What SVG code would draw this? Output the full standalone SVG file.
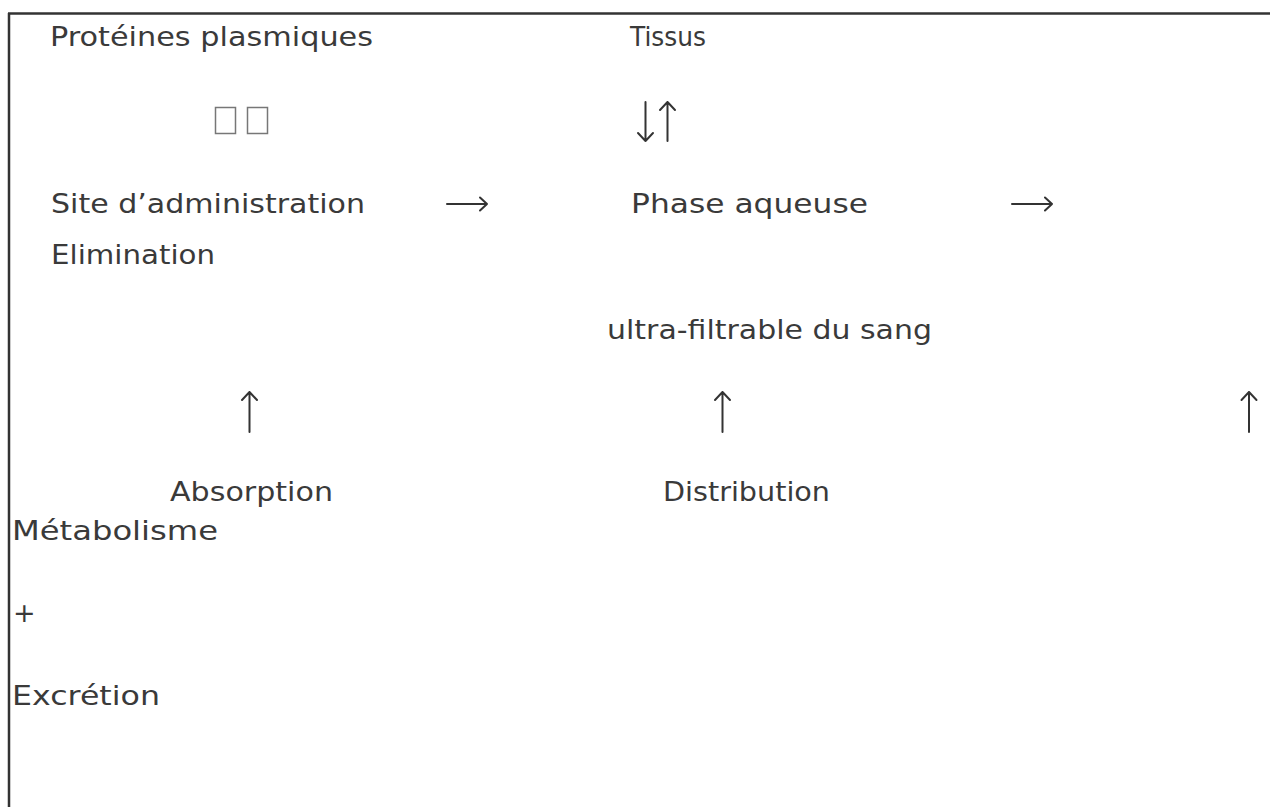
<svg xmlns="http://www.w3.org/2000/svg" width="1271" height="807" viewBox="0 0 1271 807">
<style>
.t{font-family:"DejaVu Sans","Liberation Sans",sans-serif;font-size:27px;fill:#3a3a3a}
.a{stroke:#333;stroke-width:2;fill:none;stroke-linecap:round;stroke-linejoin:round}
.box{fill:none;stroke:#777;stroke-width:1.5}
</style>
<rect width="1271" height="807" fill="#fff"/>
<g id="frame" stroke="#333" stroke-width="2.5">
<line x1="8" y1="13.5" x2="1270" y2="13.5"/>
<line x1="9" y1="13" x2="9" y2="807"/>
</g>
<g id="n-proteines"><text class="t" x="50" y="46" textLength="323" lengthAdjust="spacingAndGlyphs">Protéines plasmiques</text>
<rect class="box" x="215.5" y="107.5" width="20" height="26"/><rect class="box" x="247.5" y="107.5" width="20" height="26"/></g>
<g id="n-tissus"><text class="t" x="630" y="46" textLength="76" lengthAdjust="spacingAndGlyphs">Tissus</text></g>
<g id="n-site"><text class="t" x="51" y="213" textLength="314" lengthAdjust="spacingAndGlyphs">Site d’administration</text></g>
<g id="n-elimination"><text class="t" x="51" y="264" textLength="164" lengthAdjust="spacingAndGlyphs">Elimination</text></g>
<g id="n-phase"><text class="t" x="631" y="213" textLength="237" lengthAdjust="spacingAndGlyphs">Phase aqueuse</text>
<text class="t" x="607" y="339" textLength="325" lengthAdjust="spacingAndGlyphs">ultra-filtrable du sang</text></g>
<g id="n-absorption"><text class="t" x="170" y="501" textLength="163" lengthAdjust="spacingAndGlyphs">Absorption</text></g>
<g id="n-distribution"><text class="t" x="663" y="501" textLength="167" lengthAdjust="spacingAndGlyphs">Distribution</text></g>
<g id="n-metabolisme"><text class="t" x="12" y="540" textLength="206" lengthAdjust="spacingAndGlyphs">Métabolisme</text></g>
<g id="n-plus"><text class="t" x="13" y="622">+</text></g>
<g id="n-excretion"><text class="t" x="12" y="705" textLength="148" lengthAdjust="spacingAndGlyphs">Excrétion</text></g>
<g id="connectors">
<path class="a" d="M645.5 102V141M638 133L645.5 141L653 133"/>
<path class="a" d="M667.5 141V102M660 110L667.5 102L675 110"/>
<path class="a" d="M447 204H487M480 197.5L487 204L480 210.5"/>
<path class="a" d="M1012 204H1052M1045 197.5L1052 204L1045 210.5"/>
<path class="a" d="M249.5 432V392M242 400L249.5 392L257 400"/>
<path class="a" d="M722.5 432V392M715 400L722.5 392L730 400"/>
<path class="a" d="M1249 432V392M1241.5 400L1249 392L1256.5 400"/>
</g>
</svg>
